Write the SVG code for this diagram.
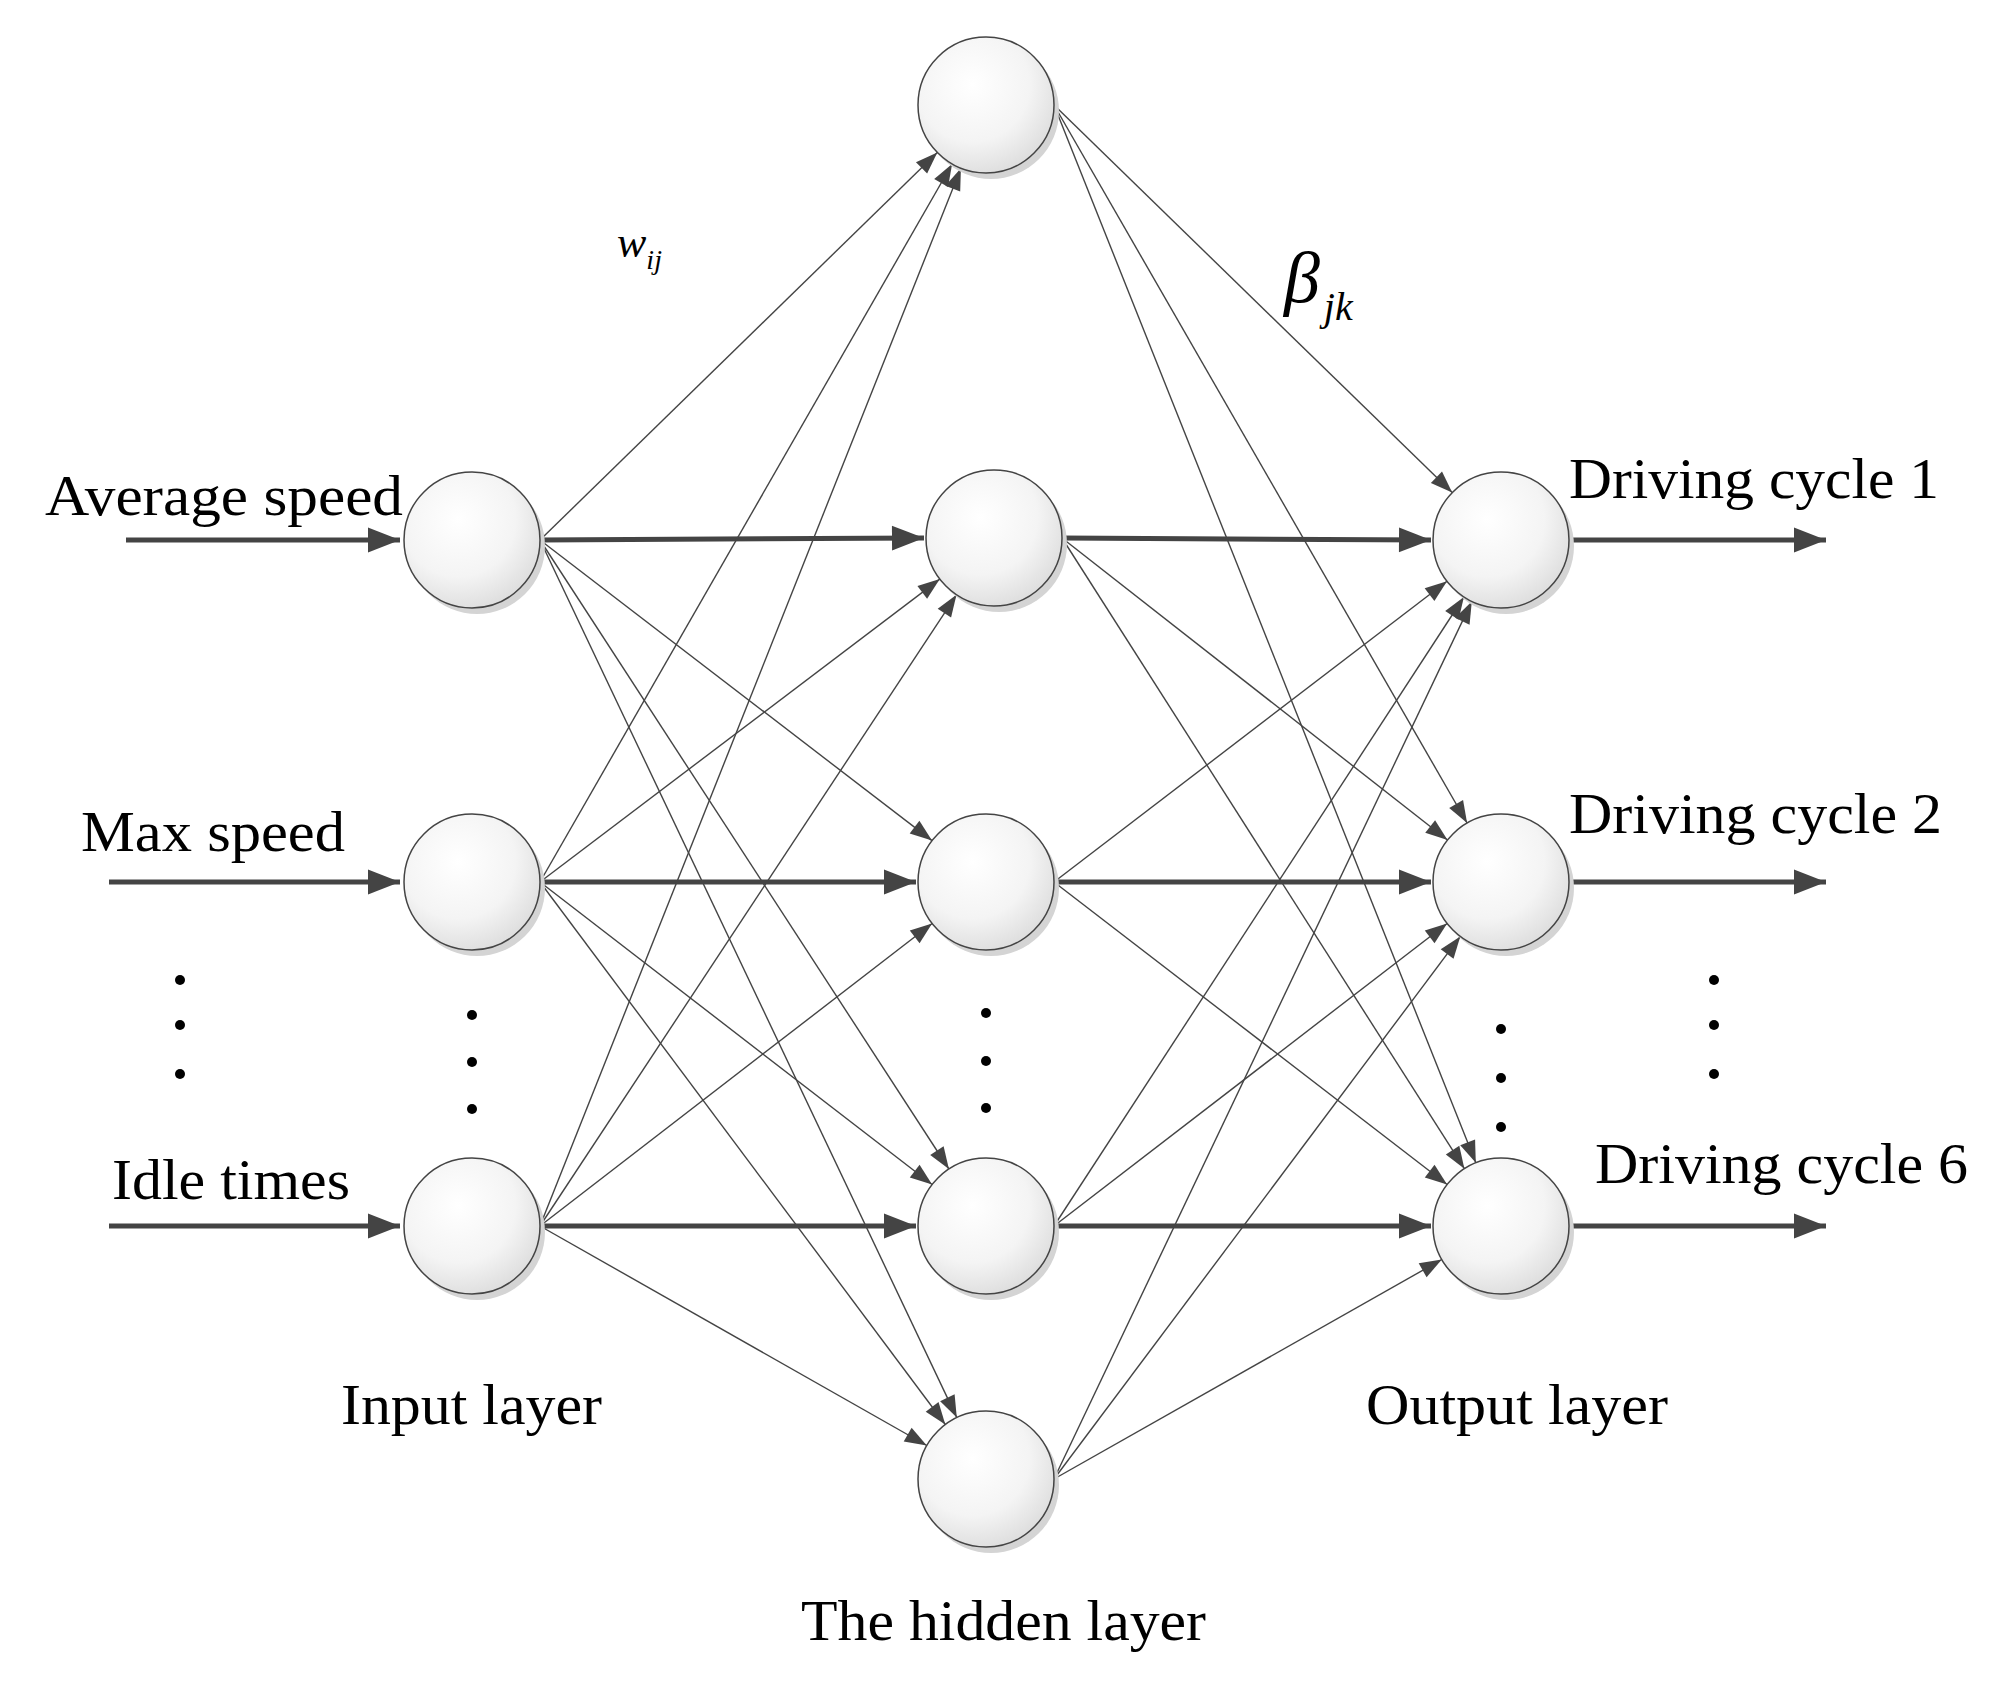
<svg xmlns="http://www.w3.org/2000/svg" width="2006" height="1687" viewBox="0 0 2006 1687">
<style>
text{font-family:"Liberation Serif","Times New Roman",serif;fill:#000}
.lbl{font-size:58px}
.thin{stroke:#444;stroke-width:1.4;fill:none;marker-end:url(#ah)}
.thick{stroke:#444;stroke-width:5;fill:none;marker-end:url(#ahb)}
.node{fill:url(#g);stroke:#444;stroke-width:1.5}
.sh{fill:#d4d4d4}
.dot{fill:#000}
</style>
<defs>
<radialGradient id="g" cx="0.4" cy="0.35" r="0.7"><stop offset="0" stop-color="#ffffff"/><stop offset="0.6" stop-color="#f4f4f4"/><stop offset="1" stop-color="#dcdcdc"/></radialGradient>
<marker id="ah" markerUnits="userSpaceOnUse" markerWidth="30" markerHeight="20" refX="0" refY="0" orient="auto" overflow="visible" viewBox="-25 -10 30 20"><path d="M-22,-8 L0,0 L-22,8 Z" fill="#444"/></marker>
<marker id="ahb" markerUnits="userSpaceOnUse" markerWidth="40" markerHeight="30" refX="0" refY="0" orient="auto" overflow="visible" viewBox="-40 -15 45 30"><path d="M-36,-14 L0,0 L-36,14 Z" fill="#444"/></marker>
</defs>
<g id="connectors">
<path class="thick" d="M126,540 H400"/>
<path class="thick" d="M109,882 H400"/>
<path class="thick" d="M109,1226 H400"/>
<path class="thick" d="M1569,540 H1826"/>
<path class="thick" d="M1569,882 H1826"/>
<path class="thick" d="M1569,1226 H1826"/>
<path class="thin" d="M540,540 L937.3,152.5"/>
<path class="thick" d="M540,540 L924,538"/>
<path class="thin" d="M540,540 L932,840.6"/>
<path class="thin" d="M540,540 L948.9,1169"/>
<path class="thin" d="M540,540 L956.8,1417.6"/>
<path class="thin" d="M540,882 L952.1,164"/>
<path class="thin" d="M540,882 L939.8,579.1"/>
<path class="thick" d="M540,882 L916,882"/>
<path class="thin" d="M540,882 L932.1,1184.5"/>
<path class="thin" d="M540,882 L945.3,1424.5"/>
<path class="thin" d="M540,1226 L960.9,168.2"/>
<path class="thin" d="M540,1226 L956.5,594.8"/>
<path class="thin" d="M540,1226 L932.1,923.5"/>
<path class="thick" d="M540,1226 L916,1226"/>
<path class="thin" d="M540,1226 L926.8,1445.5"/>
<path class="thin" d="M1054,105 L1452.2,492.6"/>
<path class="thin" d="M1054,105 L1467.1,823"/>
<path class="thin" d="M1054,105 L1475.8,1162.8"/>
<path class="thick" d="M1062,538 L1431,540"/>
<path class="thin" d="M1062,538 L1447.5,840"/>
<path class="thin" d="M1062,538 L1464.4,1168.7"/>
<path class="thin" d="M1054,882 L1447,581.3"/>
<path class="thick" d="M1054,882 L1431,882"/>
<path class="thin" d="M1054,882 L1447.1,1184.5"/>
<path class="thin" d="M1054,1226 L1463.9,597"/>
<path class="thin" d="M1054,1226 L1447.1,923.5"/>
<path class="thick" d="M1054,1226 L1431,1226"/>
<path class="thin" d="M1054,1479 L1471.8,601.4"/>
<path class="thin" d="M1054,1479 L1460.3,936.4"/>
<path class="thin" d="M1054,1479 L1441.8,1259.5"/>
</g>
<g id="in1"><circle class="sh" cx="477" cy="546" r="68"/><circle class="node" cx="472" cy="540" r="68"/></g>
<g id="in2"><circle class="sh" cx="477" cy="888" r="68"/><circle class="node" cx="472" cy="882" r="68"/></g>
<g id="in3"><circle class="sh" cx="477" cy="1232" r="68"/><circle class="node" cx="472" cy="1226" r="68"/></g>
<g id="h1"><circle class="sh" cx="991" cy="111" r="68"/><circle class="node" cx="986" cy="105" r="68"/></g>
<g id="h2"><circle class="sh" cx="999" cy="544" r="68"/><circle class="node" cx="994" cy="538" r="68"/></g>
<g id="h3"><circle class="sh" cx="991" cy="888" r="68"/><circle class="node" cx="986" cy="882" r="68"/></g>
<g id="h4"><circle class="sh" cx="991" cy="1232" r="68"/><circle class="node" cx="986" cy="1226" r="68"/></g>
<g id="h5"><circle class="sh" cx="991" cy="1485" r="68"/><circle class="node" cx="986" cy="1479" r="68"/></g>
<g id="o1"><circle class="sh" cx="1506" cy="546" r="68"/><circle class="node" cx="1501" cy="540" r="68"/></g>
<g id="o2"><circle class="sh" cx="1506" cy="888" r="68"/><circle class="node" cx="1501" cy="882" r="68"/></g>
<g id="o3"><circle class="sh" cx="1506" cy="1232" r="68"/><circle class="node" cx="1501" cy="1226" r="68"/></g>
<g id="dots">
<circle class="dot" cx="180" cy="980" r="5"/><circle class="dot" cx="180" cy="1025" r="5"/><circle class="dot" cx="180" cy="1074" r="5"/>
<circle class="dot" cx="472" cy="1015" r="5"/><circle class="dot" cx="472" cy="1062" r="5"/><circle class="dot" cx="472" cy="1109" r="5"/>
<circle class="dot" cx="986" cy="1013" r="5"/><circle class="dot" cx="986" cy="1061" r="5"/><circle class="dot" cx="986" cy="1108" r="5"/>
<circle class="dot" cx="1501" cy="1029" r="5"/><circle class="dot" cx="1501" cy="1078" r="5"/><circle class="dot" cx="1501" cy="1127" r="5"/>
<circle class="dot" cx="1714" cy="980" r="5"/><circle class="dot" cx="1714" cy="1025" r="5"/><circle class="dot" cx="1714" cy="1074" r="5"/>
</g>
<g id="labels">
<text class="lbl" x="45" y="515" textLength="358" lengthAdjust="spacingAndGlyphs">Average speed</text>
<text class="lbl" x="81" y="851" textLength="264" lengthAdjust="spacingAndGlyphs">Max speed</text>
<text class="lbl" x="112" y="1199" textLength="238" lengthAdjust="spacingAndGlyphs">Idle times</text>
<text class="lbl" x="341" y="1424" textLength="261" lengthAdjust="spacingAndGlyphs">Input layer</text>
<text class="lbl" x="801" y="1640" textLength="405" lengthAdjust="spacingAndGlyphs">The hidden layer</text>
<text class="lbl" x="1366" y="1424" textLength="302" lengthAdjust="spacingAndGlyphs">Output layer</text>
<text class="lbl" x="1569" y="498" textLength="370" lengthAdjust="spacingAndGlyphs">Driving cycle 1</text>
<text class="lbl" x="1569" y="833" textLength="373" lengthAdjust="spacingAndGlyphs">Driving cycle 2</text>
<text class="lbl" x="1595" y="1183" textLength="373" lengthAdjust="spacingAndGlyphs">Driving cycle 6</text>
<text x="617" y="257" font-size="44" font-style="italic">w<tspan font-size="28" dy="12">ij</tspan></text>
<text x="1284" y="302" font-size="72" font-style="italic">β<tspan font-size="40" dy="18" dx="4">jk</tspan></text>
</g>
</svg>
